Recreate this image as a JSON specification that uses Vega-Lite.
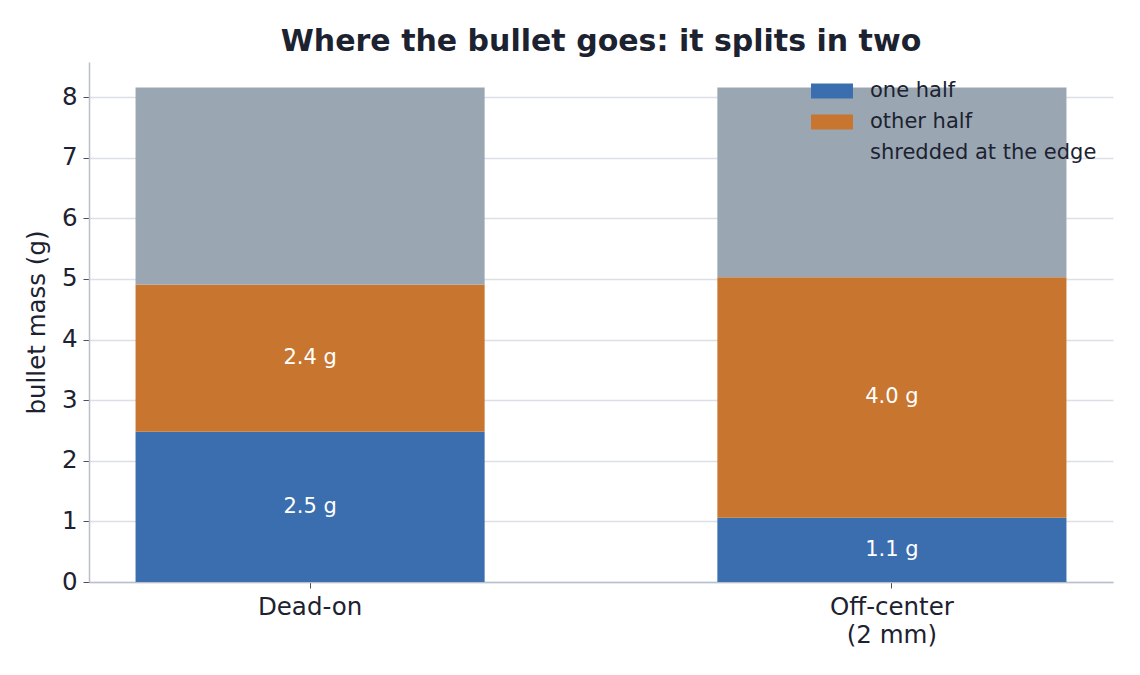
{
  "$schema": "https://vega.github.io/schema/vega-lite/v6.json",
  "width": 1024,
  "height": 520,
  "autosize": {"type": "none"},
  "padding": {"left": 89, "top": 62, "right": 27, "bottom": 93},
  "background": "white",
  "title": {
    "text": "Where the bullet goes: it splits in two",
    "font": "DejaVu Sans",
    "fontSize": 30,
    "fontWeight": "bold",
    "color": "#1c2230",
    "anchor": "middle",
    "offset": 5
  },
  "config": {
    "font": "DejaVu Sans",
    "view": {"stroke": null},
    "axis": {
      "labelFont": "DejaVu Sans",
      "titleFont": "DejaVu Sans",
      "labelColor": "#1c2230",
      "titleColor": "#1c2230",
      "labelFontSize": 24.5,
      "titleFontSize": 24.5,
      "titleFontWeight": "normal",
      "domainColor": "#b8c0cc",
      "domainWidth": 1.5,
      "tickColor": "#4a5060",
      "gridColor": "#dcdfe8",
      "gridWidth": 1.5
    }
  },
  "data": {
    "values": [
      {"shot": "Dead-on", "part": "one half", "mass": 2.48},
      {"shot": "Dead-on", "part": "other half", "mass": 2.43},
      {"shot": "Dead-on", "part": "shredded at the edge", "mass": 3.25},
      {"shot": "Off-center\n(2 mm)", "part": "one half", "mass": 1.06},
      {"shot": "Off-center\n(2 mm)", "part": "other half", "mass": 3.97},
      {"shot": "Off-center\n(2 mm)", "part": "shredded at the edge", "mass": 3.13}
    ]
  },
  "encoding": {
    "x": {
      "field": "shot",
      "type": "nominal",
      "sort": null,
      "scale": {"paddingInner": 0.4, "paddingOuter": 0.08},
      "axis": {
        "title": null,
        "labelAngle": 0,
        "labelExpr": "split(datum.label, '\\n')",
        "labelPadding": 7,
        "labelLineHeight": 28,
        "tickSize": 6,
        "grid": false
      }
    }
  },
  "layer": [
    {
      "mark": {"type": "bar"},
      "encoding": {
        "y": {
          "field": "mass",
          "type": "quantitative",
          "stack": "zero",
          "scale": {"domain": [0, 8.58], "nice": false},
          "axis": {
            "title": "bullet mass (g)",
            "values": [0, 1, 2, 3, 4, 5, 6, 7, 8],
            "format": "d",
            "tickSize": 6,
            "labelPadding": 6,
            "titlePadding": 12,
            "grid": true
          }
        },
        "color": {
          "field": "part",
          "type": "nominal",
          "scale": {
            "domain": ["one half", "other half", "shredded at the edge"],
            "range": ["#3b6eaf", "#c8762f", "#9aa7b3"]
          },
          "legend": {
            "title": null,
            "orient": "none",
            "legendX": 722,
            "legendY": 8,
            "padding": 0,
            "symbolType": "M-1,-0.36L1,-0.36L1,0.36L-1,0.36Z",
            "symbolSize": 1764,
            "symbolStrokeWidth": 0,
            "symbolOpacity": 1,
            "labelFont": "DejaVu Sans",
            "labelFontSize": 21,
            "labelColor": "#1c2230",
            "labelOffset": 17,
            "labelLimit": 0,
            "rowPadding": -1
          }
        },
        "order": {"field": "part", "sort": "ascending"}
      }
    },
    {
      "transform": [
        {"stack": "mass", "groupby": ["shot"], "sort": [{"field": "part", "order": "ascending"}], "as": ["lo", "hi"]},
        {"calculate": "(datum.lo + datum.hi) / 2", "as": "mid"},
        {"calculate": "format(datum.mass, '.1f') + ' g'", "as": "label"},
        {"filter": "datum.part != 'shredded at the edge'"}
      ],
      "mark": {"type": "text", "color": "white", "fontSize": 21, "font": "DejaVu Sans", "baseline": "middle"},
      "encoding": {
        "y": {"field": "mid", "type": "quantitative"},
        "text": {"field": "label"}
      }
    }
  ]
}
